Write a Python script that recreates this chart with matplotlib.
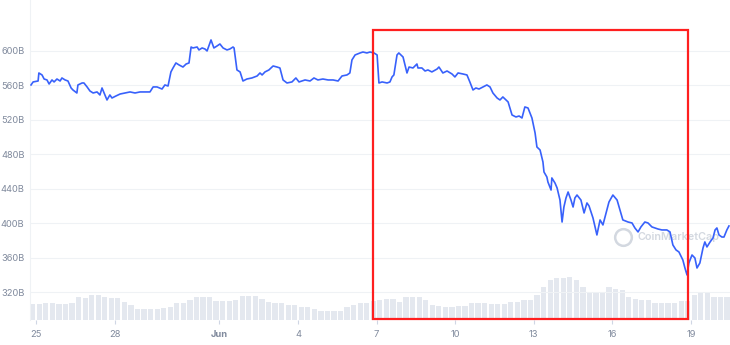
import pandas as pd
import matplotlib
matplotlib.use("Agg")
import matplotlib.pyplot as plt
import matplotlib.dates as mdates
from matplotlib.patches import Rectangle

start = pd.Timestamp("2022-05-25")

# days since 25 May, market cap in billion USD
day_offsets = [
    -0.19, -0.11, 0.08, 0.11, 0.23, 0.31, 0.42, 0.50, 0.61, 0.69, 0.80, 0.92, 0.99,
    1.11, 1.22, 1.34, 1.41, 1.56, 1.60, 1.76, 1.83, 1.95, 2.06, 2.18, 2.33, 2.44,
    2.52, 2.60, 2.71, 2.82, 2.90, 3.05, 3.21, 3.40, 3.59, 3.78, 3.97, 4.16, 4.35,
    4.47, 4.62, 4.81, 4.92, 5.04, 5.15, 5.23, 5.34, 5.46, 5.61, 5.73, 5.84, 5.92,
    5.99, 6.15, 6.22, 6.34, 6.45, 6.53, 6.68, 6.79, 6.91, 7.02, 7.14, 7.29, 7.40,
    7.52, 7.56, 7.67, 7.79, 7.90, 8.05, 8.24, 8.44, 8.55, 8.63, 8.74, 8.89, 9.05,
    9.20, 9.31, 9.43, 9.58, 9.77, 9.92, 10.04, 10.27, 10.46, 10.61, 10.76, 10.95,
    11.15, 11.34, 11.53, 11.68, 11.87, 11.98, 12.06, 12.18, 12.37, 12.48, 12.63,
    12.75, 12.90, 13.02, 13.09, 13.21, 13.40, 13.51, 13.59, 13.66, 13.78, 13.85,
    14.01, 14.16, 14.24, 14.39, 14.54, 14.58, 14.73, 14.85, 14.96, 15.11, 15.31,
    15.38, 15.53, 15.69, 15.88, 15.99, 16.11, 16.30, 16.45, 16.56, 16.68, 16.79,
    16.91, 17.06, 17.21, 17.33, 17.44, 17.60, 17.71, 17.82, 17.94, 18.02, 18.17,
    18.32, 18.44, 18.55, 18.66, 18.78, 18.93, 19.05, 19.12, 19.24, 19.35, 19.39,
    19.50, 19.54, 19.66, 19.69, 19.81, 19.89, 20.00, 20.08, 20.15, 20.23, 20.31,
    20.42, 20.50, 20.57, 20.65, 20.80, 20.92, 21.03, 21.11, 21.26, 21.41, 21.53,
    21.64, 21.76, 21.87, 22.02, 22.18, 22.29, 22.40, 22.60, 22.75, 22.86, 22.98,
    23.09, 23.24, 23.36, 23.51, 23.63, 23.74, 23.89, 24.08, 24.20, 24.31, 24.43,
    24.54, 24.69, 24.77, 24.85, 24.92, 25.04, 25.15, 25.23, 25.34, 25.46, 25.53,
    25.61, 25.73, 25.84, 25.92, 25.99, 26.07, 26.18, 26.26, 26.37, 26.45,
]
market_cap = [
    560.6, 564.1, 565.2, 574.5, 572.2, 567.5, 566.4, 561.7, 566.4, 564.1, 567.5, 565.2, 568.7,
    566.4, 565.2, 557.1, 554.8, 551.3, 560.6, 562.9, 562.9, 558.3, 553.6, 551.3, 552.5, 549.0,
    557.1, 551.3, 543.2, 549.0, 545.5, 547.8, 550.1, 551.3, 552.5, 551.3, 552.5, 552.5, 552.5,
    558.3, 558.3, 555.9, 560.6, 559.4, 575.7, 580.3, 586.1, 583.8, 581.4, 584.9, 586.1, 604.6,
    603.5, 604.6, 601.2, 603.5, 602.3, 600.0, 612.8, 603.5, 605.8, 608.1, 603.5, 601.2, 602.3,
    604.6, 603.5, 578.0, 575.7, 565.2, 567.5, 568.7, 571.0, 574.5, 572.2, 575.7, 578.0, 582.6,
    581.4, 580.3, 566.4, 562.9, 564.1, 568.7, 564.1, 566.4, 565.2, 568.7, 566.4, 567.5,
    566.4, 566.4, 565.2, 571.0, 572.2, 574.5, 589.6, 595.4, 597.7, 598.8, 597.7,
    598.8, 597.7, 595.4, 562.9, 564.1, 562.9, 564.1, 569.9, 572.2, 595.4, 597.7,
    593.0, 574.5, 581.4, 580.3, 584.9, 580.3, 580.3, 576.8, 578.0, 575.7, 579.1,
    581.4, 574.5, 576.8, 573.3, 569.9, 574.5, 573.3, 572.2, 564.1, 554.8, 557.1,
    555.9, 558.3, 560.6, 558.3, 551.3, 545.5, 543.2, 546.7, 543.2, 540.9, 525.8,
    523.5, 524.6, 522.3, 535.1, 533.9, 522.3, 504.9, 488.7, 485.2, 471.3, 459.7,
    453.9, 448.1, 438.8, 452.8, 446.9, 441.2, 427.2, 401.7, 419.1, 429.6, 436.5,
    427.2, 419.1, 429.6, 433.0, 427.2, 412.2, 423.8, 420.3, 406.4, 386.7, 404.1,
    398.3, 412.2, 424.9, 433.0, 427.2, 415.7, 404.1, 401.7, 400.6, 394.8, 390.2,
    396.0, 401.7, 400.6, 396.0, 394.8, 393.6, 392.5, 392.5, 390.2, 375.1, 369.3,
    367.0, 357.7, 348.4, 340.3, 354.2, 363.5, 360.0, 348.4, 354.2, 371.6, 378.6,
    372.8, 378.6, 383.2, 392.5, 394.8, 386.7, 384.3, 384.3, 392.5, 397.1,
]

# volume, one bar per quarter day starting 24 May 21:00 (billion USD, rough)
volume = [
    32, 32, 34, 34, 32, 32, 34, 46, 44, 50, 50, 46, 44, 44, 36, 30, 22, 22, 22, 22,
    24, 26, 34, 34, 40, 46, 46, 46, 38, 38, 38, 40, 48, 48, 48, 42, 36, 34, 34, 30,
    30, 26, 26, 22, 18, 18, 18, 18, 26, 30, 34, 34, 38, 40, 42, 42, 36, 46, 46, 46,
    40, 30, 28, 26, 26, 28, 28, 34, 34, 34, 32, 32, 32, 36, 36, 40, 40, 50, 66, 80,
    84, 84, 86, 80, 66, 54, 56, 56, 66, 62, 60, 46, 42, 40, 40, 34, 34, 34, 34, 38,
    38, 50, 54, 54, 46, 46, 46,
]
vol_first_day = -0.125
vol_step = 0.25

tick_days = [0, 3, 7, 10, 13, 16, 19, 22, 25]
tick_labels = ["25", "28", "Jun", "4", "7", "10", "13", "16", "19"]
y_ticks = [320, 360, 400, 440, 480, 520, 560, 600]

# highlighted period (red box)
box_start, box_end = 12.86, 24.89
box_bottom, box_top = 289.3, 624.3

line_color = "#3861fb"
text_color = "#808a9d"

plt.rcParams["font.family"] = ["Inter", "DejaVu Sans"]

fig = plt.figure(figsize=(7.30, 3.45), dpi=100)
ax = fig.add_axes([30 / 730, 25 / 345, 700 / 730, 320 / 345])
ax_vol = ax.twinx()
ax.set_zorder(ax_vol.get_zorder() + 1)
ax.patch.set_visible(False)


def to_num(days):
    return mdates.date2num(start + pd.to_timedelta(days, unit="D"))


times = start + pd.to_timedelta(day_offsets, unit="D")
vol_days = [vol_first_day + i * vol_step for i in range(len(volume))]
vol_x = [to_num(d) for d in vol_days]

ax_vol.bar(vol_x, volume, width=vol_step * 0.8, color="#e4e8ef", linewidth=0)
ax_vol.set_ylim(0, 640)
ax_vol.axis("off")

ax.plot(times, market_cap, color=line_color, linewidth=1.2, zorder=3)

ax.set_xlim(to_num(-0.229), to_num(26.49))
ax.set_ylim(288.1, 659.1)

ax.set_yticks(y_ticks)
ax.set_yticklabels([f"{v}B" for v in y_ticks])
ax.set_xticks([to_num(d) for d in tick_days])
ax.set_xticklabels(tick_labels)
for lab in ax.get_xticklabels():
    if lab.get_text() == "Jun":
        lab.set_fontweight("bold")
        lab.set_color("#58667e")

ax.tick_params(axis="y", length=0, pad=4, labelsize=6.7, labelcolor=text_color)
ax.tick_params(axis="x", length=3, width=0.8, color="#cfd6e4", pad=4,
               labelsize=6.7, labelcolor=text_color)
ax.grid(axis="y", color="#eff2f5", linewidth=0.8)
ax.set_axisbelow(True)
for side in ["top", "right", "bottom"]:
    ax.spines[side].set_visible(False)
ax.spines["left"].set_color("#eff2f5")
ax.spines["left"].set_linewidth(0.8)

# watermark
ax.plot([0.847], [0.26], marker="o", markersize=12, markerfacecolor="none",
        markeredgecolor="#d3d8e0", markeredgewidth=1.8, transform=ax.transAxes, zorder=1)
ax.text(0.868, 0.26, "CoinMarketCap", transform=ax.transAxes, fontsize=7.8,
        color="#d3d8e0", va="center", ha="left", fontweight="semibold", zorder=1)

ax.add_patch(Rectangle((to_num(box_start), box_bottom),
                       to_num(box_end) - to_num(box_start), box_top - box_bottom,
                       fill=False, edgecolor="#ff1f1f", linewidth=1.6, zorder=4,
                       clip_on=False))

fig.savefig("out.png", dpi=100)
